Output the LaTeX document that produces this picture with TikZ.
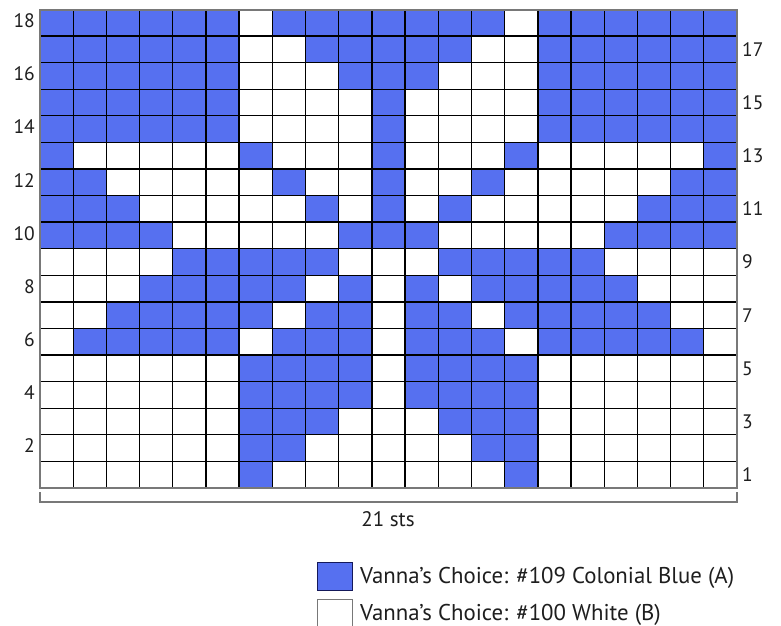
\documentclass[tikz,border=0pt]{standalone}
\usepackage{fontspec}
\setmainfont{PT Sans}
\definecolor{blueA}{RGB}{86,112,240}
\definecolor{frameg}{RGB}{120,120,120}
\definecolor{navy}{RGB}{20,25,90}
\definecolor{txt}{RGB}{30,30,30}
\begin{document}
\begin{tikzpicture}[x=1pt,y=-1pt,
  gridline/.style={black,line width=1.3pt},
  framel/.style={frameg,line width=2pt},
  numlab/.style={font=\fontsize{19.5}{19.5}\selectfont,text=txt,inner sep=0pt},
  legtext/.style={font=\fontsize{22.8}{22.8}\selectfont,text=txt,inner sep=0pt,anchor=base west},
  legbox/.style={draw=navy,line width=1.3pt,minimum width=35pt,minimum height=28pt,inner sep=0pt,anchor=north west}]
\useasboundingbox (0,0) rectangle (781,625);
\fill[white] (0,0) rectangle (781,625);
\def\xo{40}\def\yo{9.5}\def\cw{33.19}\def\ch{26.58}
% blue cells
\foreach \r/\cols in {
 18/{1,2,3,4,5,6,8,9,10,11,12,13,14,16,17,18,19,20,21},
 17/{1,2,3,4,5,6,9,10,11,12,13,16,17,18,19,20,21},
 16/{1,2,3,4,5,6,10,11,12,16,17,18,19,20,21},
 15/{1,2,3,4,5,6,11,16,17,18,19,20,21},
 14/{1,2,3,4,5,6,11,16,17,18,19,20,21},
 13/{1,7,11,15,21},
 12/{1,2,8,11,14,20,21},
 11/{1,2,3,9,11,13,19,20,21},
 10/{1,2,3,4,10,11,12,18,19,20,21},
 9/{5,6,7,8,9,13,14,15,16,17},
 8/{4,5,6,7,8,10,12,14,15,16,17,18},
 7/{3,4,5,6,7,9,10,12,13,15,16,17,18,19},
 6/{2,3,4,5,6,8,9,10,12,13,14,16,17,18,19,20},
 5/{7,8,9,10,12,13,14,15},
 4/{7,8,9,10,12,13,14,15},
 3/{7,8,9,13,14,15},
 2/{7,8,14,15},
 1/{7,15}}{
  \foreach \c in \cols {
    \fill[blueA] ({\xo+(\c-1)*\cw},{\yo+(18-\r)*\ch}) rectangle +(\cw,\ch);
  }
}
% grid lines
\foreach \i in {1,...,20}
  \draw[gridline] ({\xo+\i*\cw},\yo) -- ({\xo+\i*\cw},{\yo+18*\ch});
\foreach \j in {1,...,17}
  \draw[gridline] (\xo,{\yo+\j*\ch}) -- ({\xo+21*\cw},{\yo+\j*\ch});
\draw[framel] (\xo,\yo) rectangle ({\xo+21*\cw},{\yo+18*\ch});
% row numbers
\foreach \r in {18,16,...,2}
  \node[numlab,anchor=east] (l\r) at (35,{\yo+(18-\r)*\ch+0.42*\ch}) {\r};
\foreach \r in {17,15,...,1}
  \node[numlab,anchor=west] (r\r) at (742,{\yo+(18-\r)*\ch+0.5*\ch}) {\r};
% bracket
\coordinate (bl) at (\xo,492);
\coordinate (br) at ({\xo+21*\cw},492);
\draw[framel,line width=1.8pt] (bl) -- ++(0,10) -| (br);
\node[numlab,font=\fontsize{21}{21}\selectfont] (sts) at (388,519) {21 sts};
% legend
\node[legbox,fill=blueA] (boxA) at (317,562) {};
\node[legbox,draw=frameg,fill=white,minimum height=28pt] (boxB) at (317,599) {};
\node[legtext] (txtA) at (360,583) {Vanna’s Choice: \#109 Colonial Blue (A)};
\node[legtext] (txtB) at (360,620) {Vanna’s Choice: \#100 White (B)};
\end{tikzpicture}
\end{document}
